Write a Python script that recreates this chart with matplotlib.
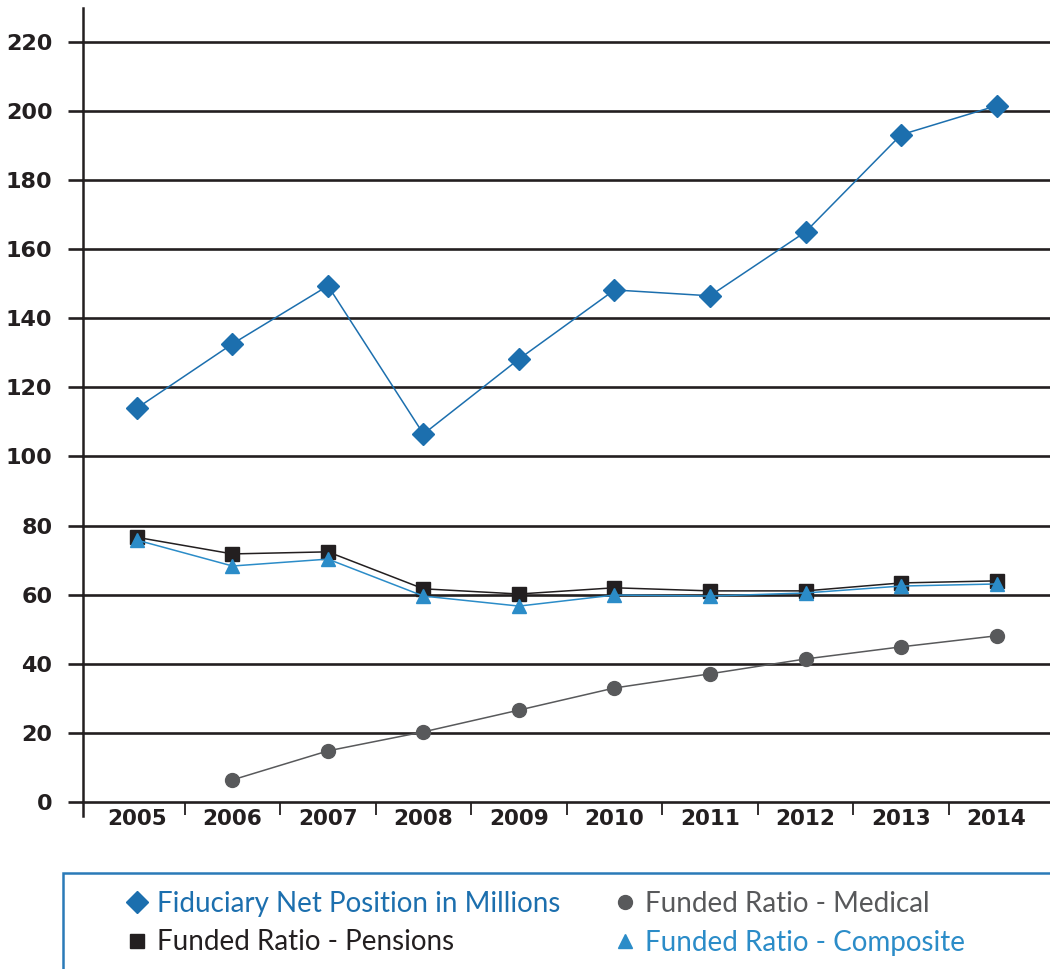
import matplotlib
matplotlib.use("Agg")
import matplotlib.pyplot as plt
from matplotlib.lines import Line2D
from matplotlib.patches import Rectangle
import numpy as np

years = ["2005", "2006", "2007", "2008", "2009", "2010", "2011", "2012", "2013", "2014"]
fiduciary = [114.0, 132.6, 149.4, 106.5, 128.2, 148.2, 146.5, 165.0, 193.1, 201.5]
pensions = [76.6, 71.8, 72.4, 61.7, 60.2, 62.0, 61.1, 61.1, 63.4, 64.0]
composite = [75.8, 68.3, 70.3, 59.6, 56.7, 59.9, 59.6, 60.5, 62.5, 63.1]
medical_years = ["2006", "2007", "2008", "2009", "2010", "2011", "2012", "2013", "2014"]
medical = [6.4, 14.8, 20.3, 26.6, 33.0, 37.1, 41.4, 44.9, 48.1]
yticks = [0, 20, 40, 60, 80, 100, 120, 140, 160, 180, 200, 220]

c_fid = "#1c6fae"
c_pen = "#231f20"
c_med = "#58595b"
c_comp = "#2b8cc8"
c_grid = "#231f20"

fig = plt.figure(figsize=(10.5, 9.69), dpi=100)
ax = fig.add_axes([83/1050, 1-802/969, 1-83/1050, (802-8)/969])

x = np.arange(len(years))
xm = np.array([years.index(y) for y in medical_years])

ax.set_ylim(0, 229.8)
ax.set_xlim(-0.565, 9.56)

for v in yticks:
    ax.axhline(v, color=c_grid, lw=1.9, zorder=1, clip_on=False)

ax.plot(x, fiduciary, color=c_fid, lw=1.1, marker="D", ms=11, mec=c_fid, mfc=c_fid, zorder=5)
ax.plot(x, pensions, color=c_pen, lw=1.1, marker="s", ms=10, mec=c_pen, mfc=c_pen, zorder=4)
ax.plot(x, composite, color=c_comp, lw=1.1, marker="^", ms=10, mec=c_comp, mfc=c_comp, zorder=5)
ax.plot(xm, medical, color=c_med, lw=1.1, marker="o", ms=10, mec=c_med, mfc=c_med, zorder=4)

for s in ["top", "right", "bottom"]:
    ax.spines[s].set_visible(False)
ax.spines["left"].set_color(c_grid)
ax.spines["left"].set_linewidth(1.8)
ax.spines["left"].set_bounds(-4, 229.8)

ax.set_yticks(yticks)
ax.set_yticklabels([str(v) for v in yticks], fontsize=16, fontweight="bold", color="#231f20")
ax.tick_params(axis="y", length=11, width=1.9, color=c_grid, pad=11)

ax.set_xticks(x)
ax.set_xticklabels(years, fontsize=15.5, fontweight="bold", color="#231f20")
ax.tick_params(axis="x", length=0, pad=5)
ax.set_xticks(x[:-1] + 0.5, minor=True)
ax.tick_params(axis="x", which="minor", length=9, width=1.3, color=c_grid)

# legend frame
fig.add_artist(Rectangle((63/1050, -0.05), 1.0, (969-873)/969 + 0.05,
                         transform=fig.transFigure, fill=False,
                         edgecolor="#2a7ab8", lw=1.8))

handles = [
    Line2D([], [], ls="none", marker="D", ms=11, color=c_fid),
    Line2D([], [], ls="none", marker="s", ms=10, color=c_pen),
    Line2D([], [], ls="none", marker="o", ms=10, color=c_med),
    Line2D([], [], ls="none", marker="^", ms=10, color=c_comp),
]
labels = ["Fiduciary Net Position in Millions", "Funded Ratio - Pensions",
          "Funded Ratio - Medical", "Funded Ratio - Composite"]
fig.legend(handles, labels, ncol=2, frameon=False,
           loc="upper left", bbox_to_anchor=(126/1050, 1-891/969),
           prop={"family": "Lato", "size": 20},
           labelcolor=[c_fid, c_pen, c_med, c_comp],
           handlelength=0.8, handletextpad=0.3, columnspacing=1.95,
           labelspacing=0.45, borderaxespad=0, borderpad=0)

fig.savefig("out.png", dpi=100)
